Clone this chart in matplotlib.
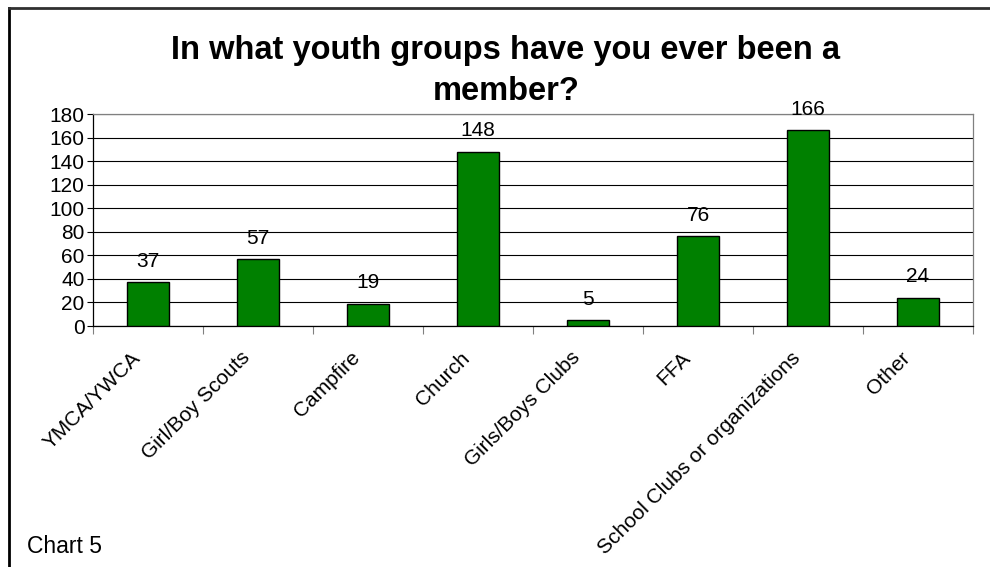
import matplotlib
matplotlib.use("Agg")
import matplotlib.pyplot as plt
from matplotlib.lines import Line2D

categories = ["YMCA/YWCA", "Girl/Boy Scouts", "Campfire", "Church",
              "Girls/Boys Clubs", "FFA", "School Clubs or organizations", "Other"]
counts = [37, 57, 19, 148, 5, 76, 166, 24]
y_ticks = [0, 20, 40, 60, 80, 100, 120, 140, 160, 180]

plt.rcParams["font.family"] = ["Liberation Sans", "DejaVu Sans"]

fig = plt.figure(figsize=(9.9, 5.67), dpi=100)
W, H = 990, 567

# outer chart frame (left and top edges)
fig.add_artist(Line2D([8.5 / W, 8.5 / W], [0, 1 - 8 / H], transform=fig.transFigure,
                      color="black", linewidth=2.0))
fig.add_artist(Line2D([8.5 / W, 1.0], [1 - 8 / H, 1 - 8 / H], transform=fig.transFigure,
                      color="#303030", linewidth=2.0))

ax = fig.add_axes([93 / W, (H - 326) / H, (973 - 93) / W, (326 - 114) / H])

x = list(range(len(categories)))
ax.bar(x, counts, width=0.39, color="#008000", edgecolor="black",
       linewidth=1.0, zorder=3)
for xi, v in zip(x, counts):
    ax.annotate(str(v), xy=(xi, v), xytext=(0, 11), textcoords="offset points",
                ha="center", va="baseline", fontsize=15)

ax.set_xlim(-0.5, len(categories) - 0.5)
ax.set_ylim(0, 180)
ax.set_yticks(y_ticks)
ax.set_yticklabels([str(t) for t in y_ticks], fontsize=15)
ax.yaxis.grid(True, color="black", linewidth=0.8, zorder=0)
ax.tick_params(axis="y", length=4, width=0.8, pad=2, color="black")

# category boundaries carry the tick marks
ax.set_xticks([i - 0.5 for i in range(len(categories) + 1)])
ax.set_xticklabels([])
ax.tick_params(axis="x", length=6, width=0.8, color="#808080")
for xi, name in zip(x, categories):
    ax.annotate(name, xy=(xi, 0), xycoords=("data", "axes fraction"),
                xytext=(-3, -16), textcoords="offset points",
                rotation=45, ha="right", va="top", fontsize=15)

ax.spines["left"].set_color("black")
ax.spines["bottom"].set_color("black")
ax.spines["top"].set_color("#808080")
ax.spines["right"].set_color("#808080")
for s in ax.spines.values():
    s.set_linewidth(0.9)

# two-line title
fig.text(506 / W, 1 - 59 / H, "In what youth groups have you ever been a",
         ha="center", va="baseline", fontsize=23.5, fontweight="bold")
fig.text(506 / W, 1 - 100 / H, "member?",
         ha="center", va="baseline", fontsize=23.5, fontweight="bold")
fig.text(27 / W, 1 - 553 / H, "Chart 5", ha="left", va="baseline", fontsize=16.5)

fig.savefig("out.png", dpi=100)
